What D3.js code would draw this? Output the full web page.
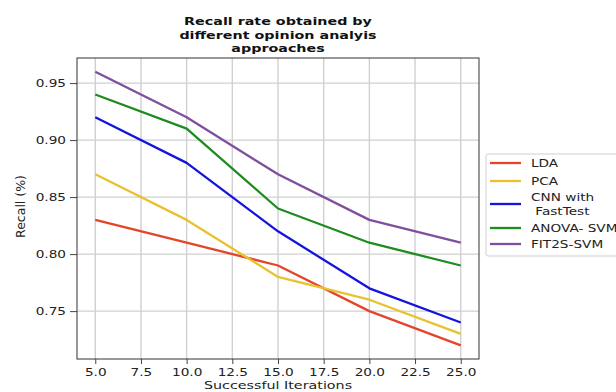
<!DOCTYPE html>
<html>
<head>
<meta charset="utf-8">
<script src="https://cdn.jsdelivr.net/npm/d3@7"></script>
<style>
  body { margin: 0; background: #fff; }
  text { font-family: "DejaVu Sans", sans-serif; }
</style>
</head>
<body>
<div id="chart"></div>
<script>
var iterations = [5, 10, 15, 20, 25]
var seriesNames = ["LDA", "PCA", "CNN with\n FastTest", "ANOVA- SVM", "FIT2S-SVM"]
var seriesColors = ["#e4452a", "#e8c22e", "#1414dc", "#1f8c1f", "#7f4f9e"]
var lda = [0.83, 0.81, 0.79, 0.75, 0.72]
var pca = [0.87, 0.83, 0.78, 0.76, 0.73]
var cnn = [0.92, 0.88, 0.82, 0.77, 0.74]
var anova = [0.94, 0.91, 0.84, 0.81, 0.79]
var fit2s = [0.96, 0.92, 0.87, 0.83, 0.81]
var xTicks = [5, 7.5, 10, 12.5, 15, 17.5, 20, 22.5, 25]
var yTicks = [0.75, 0.80, 0.85, 0.90, 0.95]
var titleLines = ["Recall rate obtained by", "different opinion analyis", "approaches"]

// the source picture is stretched sideways, so text is widened to match
var SX = 1.3

var series = [lda, pca, cnn, anova, fit2s].map(function (vals, i) {
  return { name: seriesNames[i], color: seriesColors[i], values: vals }
})

var svg = d3.select("#chart").append("svg")
  .attr("width", 616)
  .attr("height", 392)

var margin = { top: 58, right: 137, bottom: 33, left: 77 },
  width = 616 - margin.left - margin.right,
  height = 392 - margin.top - margin.bottom

var x = d3.scaleLinear().domain([4, 26]).range([0, width])
var y = d3.scaleLinear().domain([0.708, 0.972]).range([height, 0])

var g = svg.append("g")
  .attr("transform", "translate(" + margin.left + "," + margin.top + ")")

// grid
g.append("g").selectAll("line").data(xTicks).enter().append("line")
  .attr("x1", function (d) { return x(d) }).attr("x2", function (d) { return x(d) })
  .attr("y1", 0).attr("y2", height)
  .style("stroke", "#d0d0d0").style("stroke-width", 1.4)

g.append("g").selectAll("line").data(yTicks).enter().append("line")
  .attr("y1", function (d) { return y(d) }).attr("y2", function (d) { return y(d) })
  .attr("x1", 0).attr("x2", width)
  .style("stroke", "#d0d0d0").style("stroke-width", 1.4)

// lines
var line = d3.line()
  .x(function (d, i) { return x(iterations[i]) })
  .y(function (d) { return y(d) })

g.selectAll(".series").data(series).enter().append("path")
  .attr("class", "series")
  .attr("d", function (d) { return line(d.values) })
  .style("fill", "none")
  .style("stroke", function (d) { return d.color })
  .style("stroke-width", 2.3)
  .style("stroke-linejoin", "round")

// axes
var xAxis = d3.axisBottom(x).tickValues(xTicks).tickFormat(d3.format(".1f")).tickSize(5).tickPadding(4)
var yAxis = d3.axisLeft(y).tickValues(yTicks).tickFormat(d3.format(".2f")).tickSize(7).tickPadding(4)

function styleAxis(a) {
  a.select(".domain").remove()
  a.selectAll(".tick line").style("stroke", "#444")
  a.selectAll(".tick text").style("fill", "#222").style("font-size", "10.5px")
    .style("font-family", "DejaVu Sans, sans-serif")
}

g.append("g").attr("transform", "translate(0," + height + ")").call(xAxis).call(styleAxis)
  .selectAll(".tick text").attr("transform", "scale(" + SX + ",1)").attr("y", 10)
g.append("g").call(yAxis).call(styleAxis)
  .selectAll(".tick text").attr("x", -11 / SX).attr("transform", "scale(" + SX + ",1)")

g.append("rect")
  .attr("width", width).attr("height", height)
  .style("fill", "none").style("stroke", "#333").style("stroke-width", 1)

// labels
svg.append("text")
  .attr("transform", "translate(" + (margin.left + width / 2) + ",389) scale(" + SX + ",1)")
  .attr("text-anchor", "middle")
  .style("font-size", "11px").style("fill", "#222")
  .text("Successful Iterations")

svg.append("text")
  .attr("transform", "translate(25," + (margin.top + height / 2 - 2) + ") rotate(-90)")
  .attr("text-anchor", "middle")
  .style("font-size", "12.5px").style("fill", "#222")
  .text("Recall (%)")

svg.append("g").selectAll("text").data(titleLines).enter().append("text")
  .attr("transform", function (d, i) {
    return "translate(" + (margin.left + width / 2) + "," + (25 + i * 13.5) + ") scale(" + SX + ",1)"
  })
  .attr("text-anchor", "middle")
  .style("font-size", "11px").style("font-weight", "bold").style("fill", "#111")
  .text(function (d) { return d })

// legend
var legend = svg.append("g").attr("transform", "translate(486,154)")
legend.append("rect")
  .attr("width", 150).attr("height", 102).attr("rx", 2)
  .style("fill", "#fff").style("stroke", "#cfcfcf")

var rowY = [9, 27, 50, 74, 90]
series.forEach(function (s, i) {
  var row = legend.append("g").attr("transform", "translate(0," + rowY[i] + ")")
  row.append("line")
    .attr("x1", 4).attr("x2", 35).attr("y1", 0).attr("y2", 0)
    .style("stroke", s.color).style("stroke-width", 2.3)
  var parts = s.name.split("\n")
  row.selectAll("text").data(parts).enter().append("text")
    .attr("transform", function (d, j) {
      return "translate(45," + ((j - (parts.length - 1) / 2) * 14 + 4) + ") scale(" + SX + ",1)"
    })
    .style("font-size", "10.5px").style("fill", "#222")
    .attr("xml:space", "preserve")
    .text(function (d) { return d })
})
</script>
</body>
</html>
